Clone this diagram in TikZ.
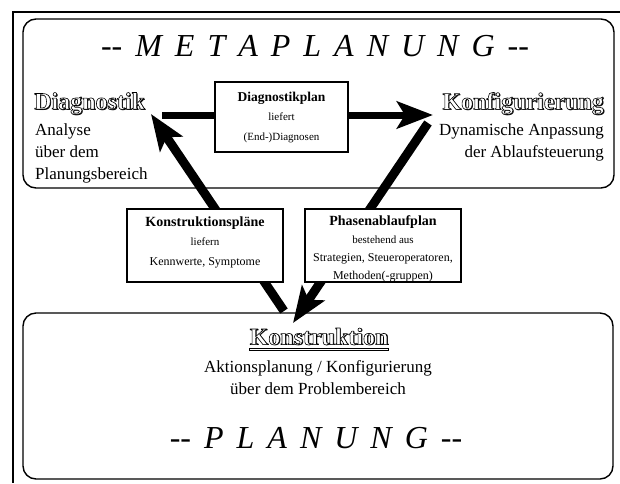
\documentclass[tikz,border=0pt]{standalone}
\usepackage{fontspec}
\setmainfont{Liberation Serif}
\usetikzlibrary{arrows.meta}
\newcommand{\fancy}[1]{\leavevmode\rlap{\kern1pt\raisebox{-1pt}{#1}}\special{pdf:literal direct 2 Tr 0.6 w 1 g 0 G}#1\special{pdf:literal direct 0 Tr 0 g}}
\newcommand{\gp}{\hspace{13pt}}
\begin{document}
\begin{tikzpicture}[x=1pt,y=-1pt,
  bigbox/.style={draw, line width=1.4pt, rounded corners=13pt},
  planbox/.style={draw, line width=1.3pt, fill=white, inner sep=0pt},
  heading/.style={inner sep=0pt, font=\fontsize{24}{24}\selectfont\bfseries},
  body/.style={inner sep=0pt, font=\fontsize{17}{22}\selectfont},
  spaced/.style={inner sep=0pt, font=\fontsize{32}{32}\selectfont\itshape},
  bigarrow/.style={line width=9pt, -{Stealth[length=36pt,width=27pt,inset=8pt]}},
]
\useasboundingbox (0,0) rectangle (620,483);
\fill[white] (0,0) rectangle (620,483);
\draw[line width=1.8pt] (620,12) -- (13,12) -- (13,483);

% big rounded frames
\draw[bigbox] (23,19) rectangle (614,188);
\draw[bigbox] (23,313) rectangle (613,479);

% titles
\node[spaced] (meta) at (315,46) {-{}-\gp M\gp E\gp T\gp A\gp P\gp L\gp A\gp N\gp U\gp N\gp G\gp -{}-};
\node[spaced] (plan) at (316,438) {-{}-\gp P\gp L\gp A\gp N\gp U\gp N\gp G\gp -{}-};

% main concept labels
\node[heading, anchor=west] (diag) at (34,104) {\fancy{Diagnostik}};
\node[body, anchor=west, align=left] (diagtext) at (35,153) {Analyse\\über dem\\Planungsbereich};
\node[heading, anchor=east] (konf) at (604,104) {\fancy{Konfigurierung}};
\node[body, anchor=east, align=right] (konftext) at (604,142) {Dynamische Anpassung\\der Ablaufsteuerung};
\node[heading] (konst) at (319,337) {\fancy{Konstruktion}};
\draw[line width=2.6pt] ([yshift=-3.5pt]konst.south west) -- ([yshift=-3.5pt]konst.south east);
\draw[white, line width=0.9pt] ([yshift=-3.5pt,xshift=1pt]konst.south west) -- ([yshift=-3.5pt,xshift=-1pt]konst.south east);
\node[body, align=center] (konsttext) at (318,378) {Aktionsplanung / Konfigurierung\\über dem Problembereich};

% arrow end points
\coordinate (a1s) at (162,115);
\coordinate (a1e) at (433,115);
\coordinate (a2s) at (284,311);
\coordinate (a2e) at (151,114);
\coordinate (a3s) at (428,123);
\coordinate (a3e) at (293,323);

\draw[bigarrow, line width=7pt] (a1s) -- (a1e);
\draw[bigarrow] (a2s) -- (a2e);
\draw[bigarrow] (a3s) -- (a3e);

% plan boxes
\node[planbox, minimum width=133pt, minimum height=70pt] (dplan) at (281.5,117) {};
\node[inner sep=0pt, align=center, font=\fontsize{11}{19.5}\selectfont] (dplantext) at (281.5,117)
  {{\fontsize{13.5}{19.5}\selectfont\bfseries Diagnostikplan}\\liefert\\(End-)Diagnosen};

\node[planbox, minimum width=156pt, minimum height=73pt] (kplan) at (205,245.5) {};
\node[inner sep=0pt, align=center, font=\fontsize{11}{19.5}\selectfont] (kplantext) at (205,242)
  {{\fontsize{14}{19.5}\selectfont\bfseries Konstruktionspläne}\\liefern\\{\fontsize{12}{19.5}\selectfont Kennwerte, Symptome}};

\node[planbox, minimum width=156pt, minimum height=73pt] (pplan) at (383,245.5) {};
\node[inner sep=0pt, align=center, font=\fontsize{11}{18}\selectfont] (pplantext) at (383,249)
  {{\fontsize{14}{19}\selectfont\bfseries Phasenablaufplan}\\bestehend aus\\{\fontsize{12}{17}\selectfont Strategien, Steueroperatoren,}\\{\fontsize{12}{17}\selectfont Methoden(-gruppen)}};
\end{tikzpicture}
\end{document}
